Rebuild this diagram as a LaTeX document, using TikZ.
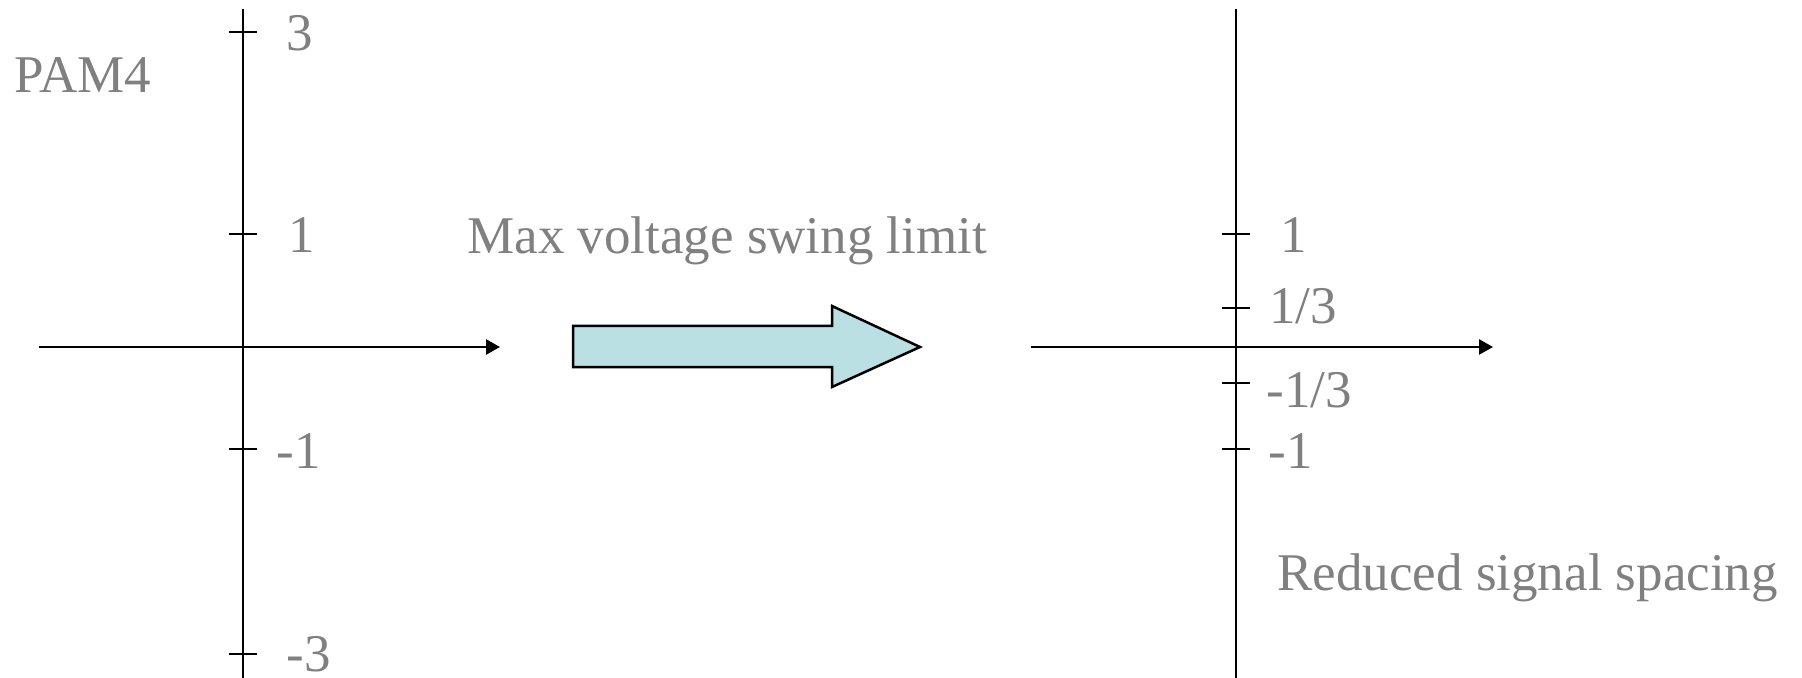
\documentclass[tikz,border=0pt]{standalone}
\usepackage{fontspec}
\setmainfont{Liberation Serif}
\usetikzlibrary{arrows.meta}
\definecolor{lblgray}{RGB}{128,128,128}
\definecolor{arrowfill}{RGB}{186,224,227}
\begin{document}
\begin{tikzpicture}[x=0.5pt,y=-0.5pt,
  axisline/.style={line width=1.35pt,black},
  axisarrow/.style={axisline,-{Triangle[length=7pt,width=7.5pt]}},
  tickline/.style={line width=1.35pt,black},
  lbl/.style={inner sep=0pt,anchor=base west,text=lblgray,font=\fontsize{26.5}{30}\selectfont},
  bigarrow/.style={line width=1.25pt,draw=black,fill=arrowfill,line join=miter}]
\useasboundingbox (0,0) rectangle (1802,678);
% left axes
\coordinate (lvtop) at (243,9);
\coordinate (lvbot) at (243,678);
\coordinate (lhl) at (39,347);
\coordinate (lhr) at (500,347);
\draw[axisline] (lvtop) -- (lvbot);
\draw[axisarrow] (lhl) -- (lhr);
\foreach \yy/\nm in {32/a,234/b,449/c,654/d}{
  \coordinate (lt\nm l) at (229,\yy);
  \coordinate (lt\nm r) at (257,\yy);
  \draw[tickline] (lt\nm l) -- (lt\nm r);
}
\node[lbl] (pam) at (14,93) {PAM4};
\node[lbl] (l3) at (286,51) {3};
\node[lbl] (l1) at (288,253) {1};
\node[lbl] (lm1) at (276,468) {-1};
\node[lbl] (lm3) at (286,671) {-3};
\node[lbl] (maxv) at (467,254) {Max voltage swing limit};
% big arrow
\draw[bigarrow] (573,326) -- (832,326) -- (832,306) -- (920,347) -- (832,387) -- (832,367) -- (573,367) -- cycle;
% right axes
\coordinate (rvtop) at (1236,9);
\coordinate (rvbot) at (1236,678);
\coordinate (rhl) at (1031,347);
\coordinate (rhr) at (1493,347);
\draw[axisline] (rvtop) -- (rvbot);
\draw[axisarrow] (rhl) -- (rhr);
\foreach \yy/\nm in {234/a,308/b,383/c,449/d}{
  \coordinate (rt\nm l) at (1222,\yy);
  \coordinate (rt\nm r) at (1250,\yy);
  \draw[tickline] (rt\nm l) -- (rt\nm r);
}
\node[lbl] (r1) at (1280,253) {1};
\node[lbl] (r13) at (1269,324) {1/3};
\node[lbl] (rm13) at (1266,407) {-1/3};
\node[lbl] (rm1) at (1268,468) {-1};
\node[lbl] (red) at (1277,590) {Reduced signal spacing};
\end{tikzpicture}
\end{document}
